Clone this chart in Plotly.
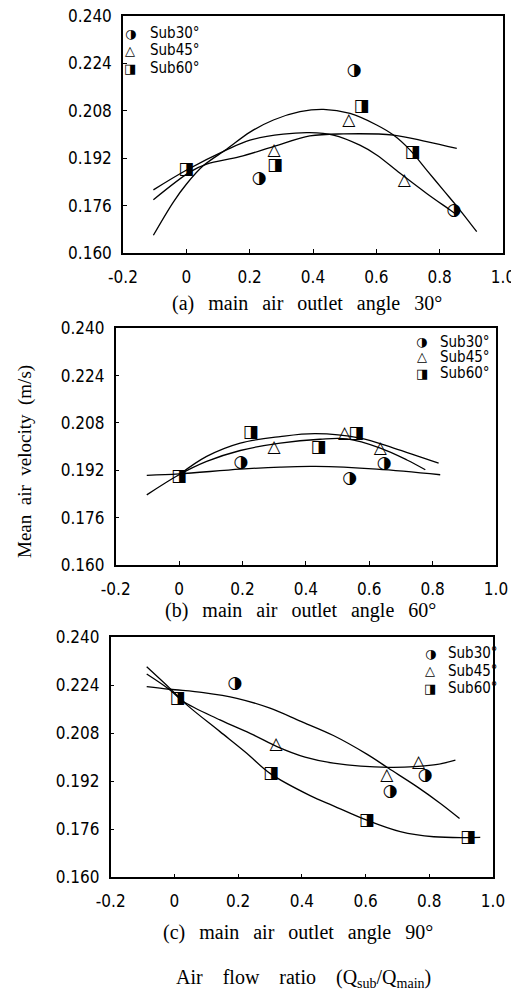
import plotly.graph_objects as go

# ---------------- data ----------------
x_ticks = [-0.2, 0.0, 0.2, 0.4, 0.6, 0.8, 1.0]
x_tick_text = ["-0.2", "0", "0.2", "0.4", "0.6", "0.8", "1.0"]
y_ticks = [0.160, 0.176, 0.192, 0.208, 0.224, 0.240]
y_tick_text = ["0.160", "0.176", "0.192", "0.208", "0.224", "0.240"]
series_names = ["Sub30°", "Sub45°", "Sub60°"]

# (a) main air outlet angle 30°
a_sub30_x = [0.23, 0.53, 0.845]
a_sub30_y = [0.185, 0.2215, 0.1743]
a_sub45_x = [0.277, 0.513, 0.688]
a_sub45_y = [0.1945, 0.2047, 0.1843]
a_sub60_x = [0.0, 0.28, 0.553, 0.714]
a_sub60_y = [0.188, 0.1895, 0.2094, 0.194]
a_fit1_x = [-0.104, -0.041, 0.0, 0.054, 0.127, 0.201, 0.275, 0.359, 0.433, 0.517, 0.601, 0.654, 0.706, 0.759, 0.811, 0.864, 0.917]
a_fit1_y = [0.166, 0.1772, 0.1832, 0.1895, 0.195, 0.2008, 0.2049, 0.2077, 0.2085, 0.2071, 0.2032, 0.1998, 0.1948, 0.188, 0.1813, 0.1745, 0.1672]
a_fit2_x = [-0.104, 0.001, 0.127, 0.201, 0.306, 0.39, 0.464, 0.548, 0.601, 0.675, 0.759, 0.833, 0.855]
a_fit2_y = [0.1813, 0.188, 0.1948, 0.1981, 0.2001, 0.2006, 0.1998, 0.1964, 0.1931, 0.1869, 0.1801, 0.1745, 0.1728]
a_fit3_x = [-0.104, 0.012, 0.064, 0.169, 0.275, 0.39, 0.496, 0.654, 0.759, 0.854]
a_fit3_y = [0.178, 0.1874, 0.19, 0.1925, 0.1959, 0.1995, 0.2002, 0.1998, 0.1976, 0.1953]

# (b) main air outlet angle 60°
b_sub30_x = [0.195, 0.538, 0.647]
b_sub30_y = [0.1946, 0.1891, 0.1941]
b_sub45_x = [0.30, 0.522, 0.635]
b_sub45_y = [0.1995, 0.2042, 0.1992]
b_sub60_x = [0.0, 0.226, 0.44, 0.559]
b_sub60_y = [0.1899, 0.2046, 0.1995, 0.2043]
b_fit1_x = [0.0, 0.087, 0.193, 0.319, 0.43, 0.571, 0.677, 0.819]
b_fit1_y = [0.1905, 0.1967, 0.2012, 0.2034, 0.2044, 0.2029, 0.1995, 0.1944]
b_fit2_x = [-0.102, 0.0, 0.087, 0.193, 0.319, 0.445, 0.53, 0.635, 0.719, 0.777]
b_fit2_y = [0.1837, 0.1905, 0.195, 0.1987, 0.2012, 0.2025, 0.2026, 0.1995, 0.1955, 0.1922]
b_fit3_x = [-0.102, 0.0, 0.193, 0.319, 0.43, 0.624, 0.824]
b_fit3_y = [0.1903, 0.1908, 0.1924, 0.1931, 0.1933, 0.1924, 0.1905]

# (c) main air outlet angle 90°
c_sub30_x = [0.19, 0.677, 0.787]
c_sub30_y = [0.2243, 0.1885, 0.1937]
c_sub45_x = [0.319, 0.667, 0.766]
c_sub45_y = [0.204, 0.1937, 0.1982]
c_sub60_x = [0.01, 0.303, 0.604, 0.922]
c_sub60_y = [0.2196, 0.1944, 0.1788, 0.1732]
c_fit1_x = [-0.087, -0.014, 0.091, 0.196, 0.30, 0.395, 0.499, 0.604, 0.672, 0.761, 0.835, 0.895]
c_fit1_y = [0.2235, 0.2226, 0.2215, 0.2196, 0.2163, 0.2120, 0.2072, 0.2010, 0.1963, 0.1902, 0.1846, 0.1796]
c_fit2_x = [-0.087, -0.014, 0.028, 0.143, 0.248, 0.322, 0.41, 0.499, 0.672, 0.814, 0.882]
c_fit2_y = [0.2277, 0.2224, 0.2185, 0.2124, 0.2074, 0.2035, 0.2, 0.198, 0.1966, 0.1974, 0.199]
c_fit3_x = [-0.087, -0.014, 0.039, 0.143, 0.227, 0.30, 0.426, 0.499, 0.604, 0.709, 0.814, 0.96]
c_fit3_y = [0.2301, 0.2229, 0.2174, 0.2085, 0.2013, 0.1946, 0.1872, 0.1838, 0.1790, 0.1752, 0.1735, 0.1733]

panel_titles = ["(a) main air outlet angle 30°", "(b) main air outlet angle 60°", "(c) main air outlet angle 90°"]
y_title = "Mean air velocity (m/s)"
x_title = "Air flow ratio (Q<sub>sub</sub>/Q<sub>main</sub>)"

# ---------------- styling ----------------
# the page body keeps its default 8px margin, so the figure fills the rest of the window
OFF = 8
W, H = 519 - OFF, 991 - OFF
TICK_FAMILY = "Liberation Sans Narrow, DejaVu Sans Condensed, Arial Narrow, Liberation Sans, sans-serif"
TICK_FONT = dict(family=TICK_FAMILY, size=17, color="black")
SERIF_FAMILY = "Liberation Serif, DejaVu Serif, serif"
GLYPH_FONT = "DejaVu Sans"
glyphs = ["◑", "△", "◨"]


def px(x):
    return (x - OFF) / W


def py(y):
    return 1 - (y - OFF) / H


def spaced(s, sep):
    return sep.join(s.split(" "))


panels = [
    dict(sub=[(a_sub30_x, a_sub30_y), (a_sub45_x, a_sub45_y), (a_sub60_x, a_sub60_y)],
         fits=[(a_fit1_x, a_fit1_y), (a_fit2_x, a_fit2_y), (a_fit3_x, a_fit3_y)],
         xdom=[px(123), px(503)], ydom=[py(253), py(16)]),
    dict(sub=[(b_sub30_x, b_sub30_y), (b_sub45_x, b_sub45_y), (b_sub60_x, b_sub60_y)],
         fits=[(b_fit1_x, b_fit1_y), (b_fit2_x, b_fit2_y), (b_fit3_x, b_fit3_y)],
         xdom=[px(115.7), px(496)], ydom=[py(565), py(328.3)]),
    dict(sub=[(c_sub30_x, c_sub30_y), (c_sub45_x, c_sub45_y), (c_sub60_x, c_sub60_y)],
         fits=[(c_fit1_x, c_fit1_y), (c_fit2_x, c_fit2_y), (c_fit3_x, c_fit3_y)],
         xdom=[px(110.7), px(493)], ydom=[py(877.3), py(637)]),
]

fig = go.Figure()
layout = dict(width=W, height=H, margin=dict(l=0, r=0, t=0, b=0, autoexpand=False),
              paper_bgcolor="white", plot_bgcolor="white", showlegend=False)

for i, p in enumerate(panels):
    n = "" if i == 0 else str(i + 1)
    xa, ya = "x" + n, "y" + n
    for fx, fy in p["fits"]:
        fig.add_trace(go.Scatter(x=fx, y=fy, mode="lines", xaxis=xa, yaxis=ya,
                                 line=dict(color="black", width=1.3, shape="spline", smoothing=1.0),
                                 hoverinfo="skip"))
    for k, (sx, sy) in enumerate(p["sub"]):
        fig.add_trace(go.Scatter(x=sx, y=sy, mode="text", xaxis=xa, yaxis=ya,
                                 text=[glyphs[k]] * len(sx), textposition="middle center",
                                 textfont=dict(family=GLYPH_FONT, size=17, color="black", weight="bold"),
                                 name=series_names[k]))
    layout["xaxis" + n] = dict(domain=p["xdom"], anchor=ya, range=[-0.2, 1.0], automargin=False,
                                tickvals=x_ticks, ticktext=x_tick_text, ticks="inside", ticklen=4,
                                tickcolor="black", showline=True, linecolor="black", linewidth=1.5,
                                mirror=True, showgrid=False, zeroline=False, tickfont=TICK_FONT,
                                ticklabelstandoff=8, ticklabeloverflow="allow")
    layout["yaxis" + n] = dict(domain=p["ydom"], anchor=xa, range=[0.160, 0.240], automargin=False,
                                tickvals=y_ticks, ticktext=y_tick_text, ticks="inside", ticklen=4,
                                tickcolor="black", showline=True, linecolor="black", linewidth=1.5,
                                mirror=True, showgrid=False, zeroline=False, tickfont=TICK_FONT,
                                ticklabelstandoff=6, ticklabeloverflow="allow")

annotations = []
title_pos = [(307, 303), (300, 610), (298, 932)]
for t, (tx, ty) in zip(panel_titles, title_pos):
    annotations.append(dict(text=spaced(t, "\u2002\u2009"), x=px(tx), y=py(ty), xref="paper", yref="paper",
                            showarrow=False, font=dict(family=SERIF_FAMILY, size=20, color="black"),
                            xanchor="center", yanchor="middle"))

legend_pos = [
    (130, 148, [33, 50, 68]),
    (421.7, 438, [341.7, 356.7, 373.3]),
    (430, 446, [653, 670.7, 688.3]),
]
for gx, tx, rows in legend_pos:
    for k, ry in enumerate(rows):
        annotations.append(dict(text=glyphs[k], x=px(gx), y=py(ry), xref="paper", yref="paper",
                                showarrow=False, xanchor="center", yanchor="middle",
                                font=dict(family=GLYPH_FONT, size=13, color="black", weight="bold")))
        annotations.append(dict(text=series_names[k], x=px(tx), y=py(ry), xref="paper", yref="paper",
                                showarrow=False, xanchor="left", yanchor="middle",
                                font=dict(family=TICK_FAMILY, size=15, color="black")))

annotations.append(dict(text=spaced(y_title, "\u2002"), x=px(25), y=py(462), xref="paper", yref="paper",
                        showarrow=False, textangle=-90,
                        font=dict(family=SERIF_FAMILY, size=19, color="black"),
                        xanchor="center", yanchor="middle"))
annotations.append(dict(text=spaced(x_title.replace("Air flow ratio ", "Air flow ratio\u2003"), "\u2003"),
                        x=px(303), y=py(978), xref="paper", yref="paper", showarrow=False,
                        font=dict(family=SERIF_FAMILY, size=20, color="black"),
                        xanchor="center", yanchor="middle"))
layout["annotations"] = annotations

fig.update_layout(**layout)
fig.write_html("out.html")
